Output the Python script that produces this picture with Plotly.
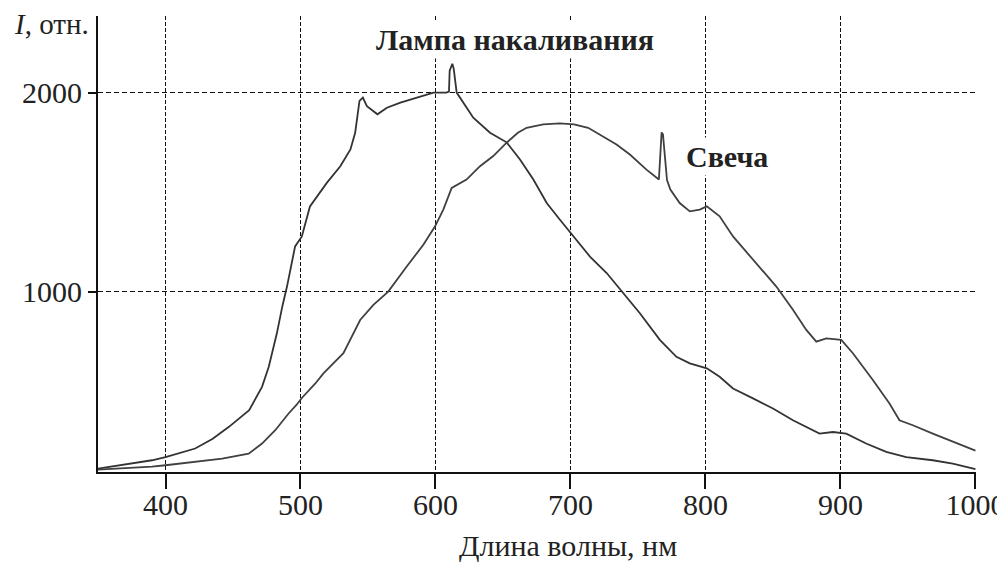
import plotly.graph_objects as go

# Incandescent lamp spectrum (nm, relative intensity)
lamp_nm = [350, 360, 375, 390, 400, 422, 435, 447, 462, 471.5, 476.5, 482.5, 486.5, 490, 496, 501,
           507, 519.5, 529.5, 537, 540.5, 543.7, 546.2, 549.2, 557, 564, 574, 586, 598.5, 608,
           610, 610.5, 612.5, 613.5, 615.7, 628, 640.4, 652.7, 662.6, 672.5, 682.4, 692.2, 702.6,
           714.4, 726.8, 739, 751.4, 766.2, 778.5, 788.4, 801, 810.5, 820.4, 835.2, 850, 864.8,
           877.1, 884.5, 894.4, 904.3, 919, 933.9, 948.7, 968.4, 983.2, 1000]
lamp_I = [110, 120, 135, 152, 168, 211, 260, 320, 404, 521, 622, 790, 924, 1025, 1227, 1277,
          1428, 1546, 1630, 1714, 1798, 1958, 1975, 1932, 1891, 1924, 1950, 1975, 2000, 2000,
          2005, 2110, 2145, 2120, 2000, 1874, 1798, 1750, 1664, 1563, 1445, 1361, 1277,
          1176, 1093, 992, 891, 757, 672, 639, 614, 572, 513, 463, 412, 353,
          311, 286, 294, 286, 236, 194, 168, 152, 135, 108]

# Candle spectrum
candle_nm = [350, 370, 390, 400, 422, 442, 461.6, 471.5, 481.3, 491.2, 497, 501, 511, 517, 531.8,
             544.2, 554, 565, 578.7, 591, 599.7, 605.8, 612, 623, 633, 642.8, 652.7, 661, 667.5,
             679.8, 692.2, 702.6, 713.1, 721.8, 734.1, 744, 756.3, 765.5, 766.5, 767.5, 768.5,
             770, 771.5, 774, 780.9, 788.4, 795.8, 801, 810.5, 820.4, 835.2, 852.5, 864.8, 874.7,
             882.1, 889.5, 900.6, 909.2, 924, 936.3, 943.7, 953.6, 968.4, 983.2, 1000]
candle_I = [105, 112, 120, 127, 143, 160, 185, 236, 303, 387, 430, 465, 538, 589, 690,
            857, 933, 1000, 1126, 1235, 1328, 1412, 1521, 1563, 1630, 1681, 1748, 1798, 1823,
            1840, 1845, 1840, 1823, 1790, 1739, 1689, 1613, 1563, 1700, 1800, 1790,
            1690, 1560, 1513, 1445, 1403, 1412, 1428, 1378, 1277, 1160, 1025, 908, 807,
            748, 765, 757, 690, 555, 437, 353, 328, 286, 244, 200]

x_ticks = [400, 500, 600, 700, 800, 900, 1000]
y_ticks = [1000, 2000]

SERIF = "Liberation Serif, Times New Roman, serif"
TXT = "#222222"

fig = go.Figure()
fig.add_trace(go.Scatter(x=lamp_nm, y=lamp_I, mode="lines", name="Лампа накаливания",
                         line=dict(color="#333333", width=1.8)))
fig.add_trace(go.Scatter(x=candle_nm, y=candle_I, mode="lines", name="Свеча",
                         line=dict(color="#404040", width=1.8)))

# page body has an 8px default margin, so the figure is offset by 8px
fig.update_layout(
    width=1005, height=562,
    margin=dict(l=90, r=37, t=8, b=98),
    plot_bgcolor="white", paper_bgcolor="white",
    showlegend=False,
    font=dict(family=SERIF, color=TXT),
)
fig.update_xaxes(
    range=[350, 1000.4], tickvals=x_ticks, ticks="outside", ticklen=15, tickwidth=1.5,
    tickcolor="#111111", showline=True, linecolor="#111111", linewidth=2,
    showgrid=True, gridcolor="#111111", gridwidth=1, griddash="4px,2px",
    zeroline=False, automargin=False, ticklabelstandoff=-10,
    tickfont=dict(family=SERIF, size=30, color=TXT),
)
fig.update_yaxes(
    range=[93, 2385], tickvals=y_ticks, ticks="outside", ticklen=8, tickwidth=1.5,
    tickcolor="#111111", showline=True, linecolor="#111111", linewidth=2,
    showgrid=True, gridcolor="#111111", gridwidth=1, griddash="5px,3px",
    zeroline=False, automargin=False,
    tickfont=dict(family=SERIF, size=30, color=TXT),
)

fig.add_annotation(x=659, y=2269, xref="x", yref="y", text="<b>Лампа накаливания</b>",
                   showarrow=False, font=dict(family=SERIF, size=30, color=TXT),
                   bgcolor="white", borderpad=2, xanchor="center", yanchor="middle")
fig.add_annotation(x=816, y=1679, xref="x", yref="y", text="<b>Свеча</b>",
                   showarrow=False, font=dict(family=SERIF, size=30, color=TXT),
                   bgcolor="white", borderpad=2, xanchor="center", yanchor="middle")
fig.add_annotation(x=-0.0535, y=0.982, xref="paper", yref="paper", text="<i>I</i>, отн.",
                   showarrow=False, font=dict(family=SERIF, size=29, color=TXT),
                   xanchor="center", yanchor="middle")
fig.add_annotation(x=0.535, y=-0.162, xref="paper", yref="paper", text="Длина волны, нм",
                   showarrow=False, font=dict(family=SERIF, size=30, color=TXT),
                   xanchor="center", yanchor="middle")

fig.write_html("out.html")
